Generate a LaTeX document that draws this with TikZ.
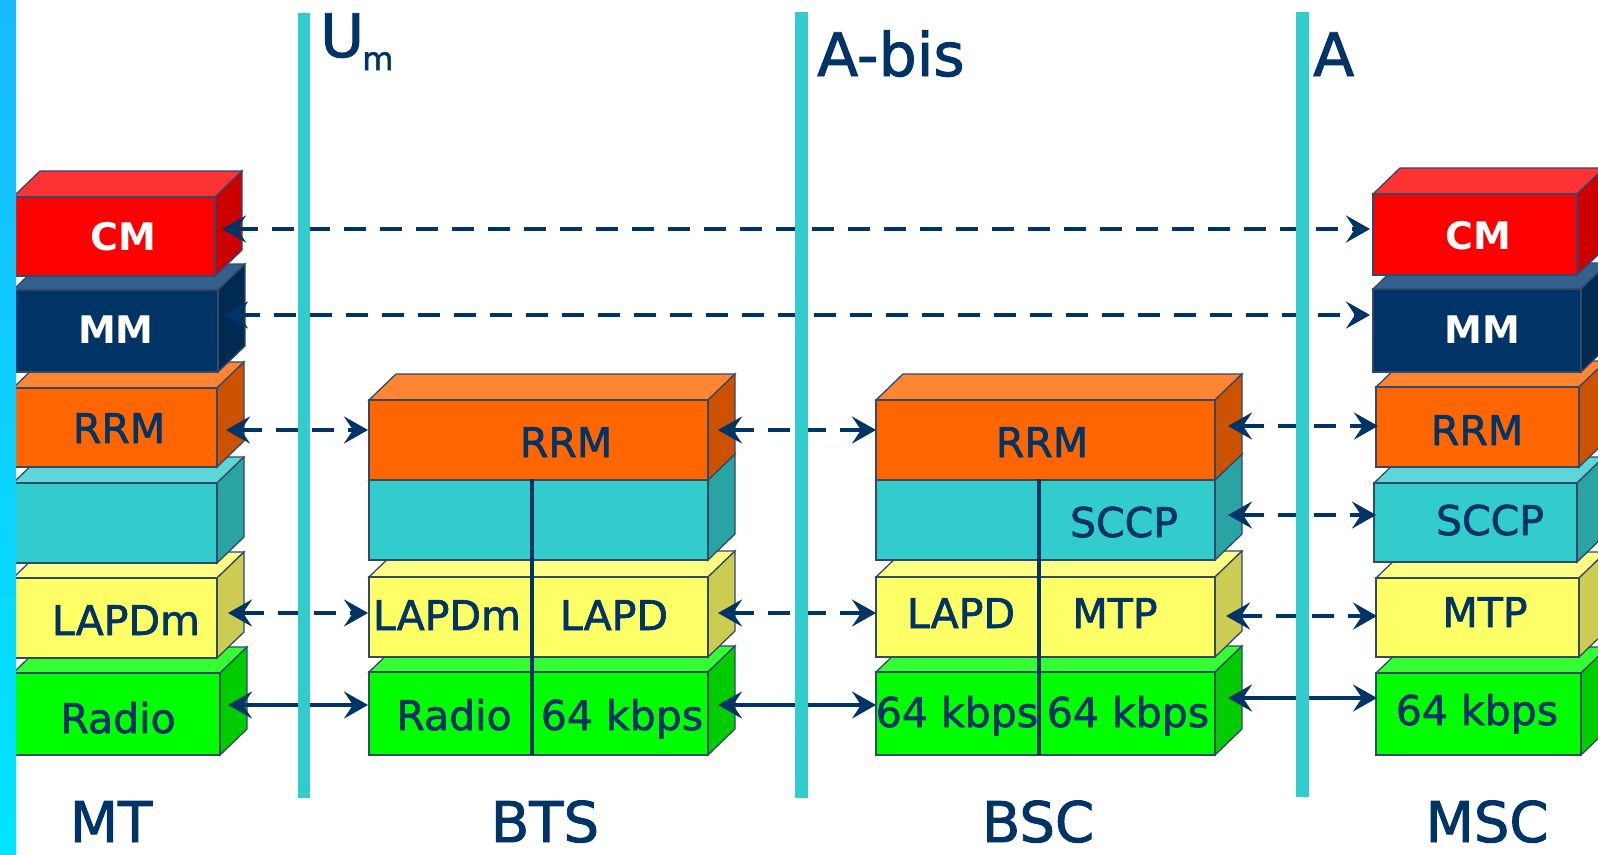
\documentclass[tikz,border=0pt]{standalone}
\usepackage{fontspec}
\setmainfont{DejaVu Sans}
\newfontfamily\thickfont[FakeBold=1.6]{DejaVu Sans}
\usetikzlibrary{arrows.meta}
\definecolor{navy}{HTML}{003366}
\definecolor{edgec}{HTML}{34486A}
\definecolor{iface}{HTML}{33CCCC}
\definecolor{rF}{HTML}{FF0000}\definecolor{rT}{HTML}{FF3333}\definecolor{rS}{HTML}{CC0000}
\definecolor{mF}{HTML}{003366}\definecolor{mT}{HTML}{33608C}\definecolor{mS}{HTML}{002A52}
\definecolor{oF}{HTML}{FF6600}\definecolor{oT}{HTML}{FF8533}\definecolor{oS}{HTML}{CC5200}
\definecolor{cF}{HTML}{33CCCC}\definecolor{cT}{HTML}{5CD6D6}\definecolor{cS}{HTML}{29A3A3}
\definecolor{yF}{HTML}{FFFF66}\definecolor{yT}{HTML}{FFFF85}\definecolor{yS}{HTML}{CCCC52}
\definecolor{gF}{HTML}{00FF00}\definecolor{gT}{HTML}{33FF33}\definecolor{gS}{HTML}{00CC00}
\tikzset{
  boxedge/.style={draw=edgec,line width=1.3pt,line join=miter},
  lbl/.style={font=\thickfont\fontsize{41}{41}\selectfont,text=navy,anchor=base,inner sep=0pt},
  wlbl/.style={font=\fontsize{38}{38}\selectfont\bfseries,text=white,anchor=base,inner sep=0pt},
  biglbl/.style={font=\thickfont\fontsize{56}{56}\selectfont,text=navy,anchor=base,inner sep=0pt},
  toplbl/.style={font=\thickfont\fontsize{60}{60}\selectfont,text=navy,anchor=base west,inner sep=0pt},
  sublbl/.style={font=\thickfont\fontsize{32}{32}\selectfont,text=navy,anchor=base west,inner sep=0pt},
  divider/.style={draw=navy,line width=3.5pt},
  ifline/.style={draw=iface,line width=12.5pt},
  dconn/.style={draw=navy,line width=4pt,dash pattern=on 22pt off 14pt,{Stealth[length=24pt,width=27pt,inset=9pt]}-{Stealth[length=24pt,width=27pt,inset=9pt]}},
  sconn/.style={draw=navy,line width=3.5pt,{Stealth[length=24pt,width=27pt,inset=9pt]}-{Stealth[length=24pt,width=27pt,inset=9pt]}}
}
\newcommand{\layerslab}[8]{%
  \filldraw[boxedge,fill=#7] (#2,#4) -- (#2+27,#4-26) -- (#3+27,#4-26) -- (#3,#4) -- cycle;
  \filldraw[boxedge,fill=#8] (#3,#4) -- (#3+27,#4-26) -- (#3+27,#5-26) -- (#3,#5) -- cycle;
  \node[boxedge,fill=#6,anchor=north west,inner sep=0pt,outer sep=0pt,
        minimum width={(#3-#2)*1pt},minimum height={(#5-#4)*1pt}] (#1) at (#2,#4) {};
}
\begin{document}
\begin{tikzpicture}[x=1pt,y=-1pt]
\useasboundingbox (0,0) rectangle (1598,854);
\clip (0,0) rectangle (1598,854);
\fill[white] (0,0) rectangle (1598,854);

% ---------- MT stack ----------
\layerslab{mtg}{13}{220}{673}{755}{gF}{gT}{gS}
\layerslab{mty}{13}{217}{578}{658}{yF}{yT}{yS}
\layerslab{mtc}{13}{217}{483}{563}{cF}{cT}{cS}
\layerslab{mto}{13}{217}{388}{467}{oF}{oT}{oS}
\layerslab{mtm}{13}{218}{290}{372}{mF}{mT}{mS}
\layerslab{mtr}{13}{215}{197}{276}{rF}{rT}{rS}
\node[wlbl] (tmtcm) at (123,250) {CM};
\node[wlbl] (tmtmm) at (116,343) {MM};
\node[lbl] (tmtrrm) at (119,443) {RRM};
\node[lbl] (tmtlap) at (126,635) {LAPDm};
\node[lbl] (tmtrad) at (118,733) {Radio};

% ---------- BTS stack ----------
\layerslab{btsg}{369}{708}{672}{755}{gF}{gT}{gS}
\layerslab{btsy}{369}{708}{577}{657}{yF}{yT}{yS}
\layerslab{btsc}{369}{708}{480}{560}{cF}{cT}{cS}
\layerslab{btso}{369}{708}{400}{480}{oF}{oT}{oS}
\coordinate (btsdA) at (532,479);
\coordinate (btsdB) at (532,755);
\draw[divider] (btsdA) -- (btsdB);
\node[lbl] (tbtsrrm) at (566,457) {RRM};
\node[lbl] (tbtslm) at (447,630) {LAPDm};
\node[lbl] (tbtsld) at (614,630) {LAPD};
\node[lbl] (tbtsrad) at (454,730) {Radio};
\node[lbl] (tbts64) at (622,730) {64 kbps};

% ---------- BSC stack ----------
\layerslab{bscg}{876}{1215}{672}{755}{gF}{gT}{gS}
\layerslab{bscy}{876}{1215}{577}{657}{yF}{yT}{yS}
\layerslab{bscc}{876}{1215}{480}{560}{cF}{cT}{cS}
\layerslab{bsco}{876}{1215}{400}{480}{oF}{oT}{oS}
\coordinate (bscdA) at (1039,479);
\coordinate (bscdB) at (1039,755);
\draw[divider] (bscdA) -- (bscdB);
\node[lbl] (tbscrrm) at (1042,457) {RRM};
\node[lbl] (tbscsccp) at (1124,537) {SCCP};
\node[lbl] (tbscld) at (961,628) {LAPD};
\node[lbl] (tbscmtp) at (1115,628) {MTP};
\node[lbl] (tbsc64a) at (957,727) {64 kbps};
\node[lbl] (tbsc64b) at (1128,727) {64 kbps};

% ---------- MSC stack ----------
\layerslab{mscg}{1376}{1581}{673}{755}{gF}{gT}{gS}
\layerslab{mscy}{1376}{1579}{578}{657}{yF}{yT}{yS}
\layerslab{mscc}{1374}{1577}{483}{562}{cF}{cT}{cS}
\layerslab{msco}{1376}{1579}{387}{467}{oF}{oT}{oS}
\layerslab{mscm}{1373}{1581}{289}{372}{mF}{mT}{mS}
\layerslab{mscr}{1373}{1577}{194}{275}{rF}{rT}{rS}
\node[wlbl] (tmsccm) at (1478,249) {CM};
\node[wlbl] (tmscmm) at (1482,343) {MM};
\node[lbl] (tmscrrm) at (1477,445) {RRM};
\node[lbl] (tmscsccp) at (1490,535) {SCCP};
\node[lbl] (tmscmtp) at (1485,627) {MTP};
\node[lbl] (tmsc64) at (1477,725) {64 kbps};

% ---------- connector end points ----------
\coordinate (cmL) at (222,229);  \coordinate (cmR) at (1370,229);
\coordinate (mmL) at (224,315);  \coordinate (mmR) at (1370,315);
\coordinate (r1L) at (226,430);  \coordinate (r1R) at (368,430);
\coordinate (r2L) at (718,430);  \coordinate (r2R) at (876,430);
\coordinate (r3L) at (1228,426); \coordinate (r3R) at (1378,426);
\coordinate (s3L) at (1228,515); \coordinate (s3R) at (1376,515);
\coordinate (l1L) at (228,613);  \coordinate (l1R) at (368,613);
\coordinate (l2L) at (718,613);  \coordinate (l2R) at (876,613);
\coordinate (l3L) at (1226,616); \coordinate (l3R) at (1377,616);
\coordinate (p1L) at (228,705);  \coordinate (p1R) at (368,705);
\coordinate (p2L) at (718,705);  \coordinate (p2R) at (876,705);
\coordinate (p3L) at (1228,698); \coordinate (p3R) at (1377,698);

\draw[dconn] (cmL) -- (cmR);
\draw[dconn] (mmL) -- (mmR);
\draw[dconn] (r1L) -- (r1R);
\draw[dconn] (r2L) -- (r2R);
\draw[dconn] (r3L) -- (r3R);
\draw[dconn] (s3L) -- (s3R);
\draw[dconn] (l1L) -- (l1R);
\draw[dconn] (l2L) -- (l2R);
\draw[dconn] (l3L) -- (l3R);
\draw[sconn] (p1L) -- (p1R);
\draw[sconn] (p2L) -- (p2R);
\draw[sconn] (p3L) -- (p3R);

% ---------- interface lines ----------
\coordinate (umT) at (304,13);   \coordinate (umB) at (304,798);
\coordinate (abT) at (801.5,12); \coordinate (abB) at (801.5,798);
\coordinate (aT) at (1302.5,12); \coordinate (aB) at (1302.5,797);
\draw[ifline] (umT) -- (umB);
\draw[ifline] (abT) -- (abB);
\draw[ifline] (aT) -- (aB);
\node[toplbl] (tum) at (320,57) {U};
\node[sublbl] (tumsub) at (362,70) {m};
\node[toplbl] (tabis) at (817,76) {A-bis};
\node[toplbl] (ta) at (1313,76) {A};

% ---------- bottom labels ----------
\node[biglbl] (lmt) at (111,842) {MT};
\node[biglbl] (lbts) at (545,842) {BTS};
\node[biglbl] (lbsc) at (1038,842) {BSC};
\node[biglbl] (lmsc) at (1487,842) {MSC};

% ---------- left gradient bar ----------
\shade[top color=cyan!70!blue!90, middle color=blue, bottom color=cyan!90!blue] (0,0) rectangle (16,854);
\end{tikzpicture}
\end{document}
